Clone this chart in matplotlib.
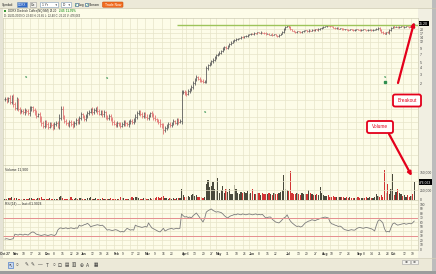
import numpy as np
import pandas as pd
import matplotlib
matplotlib.use("Agg")
import matplotlib.pyplot as plt
from matplotlib.patches import Rectangle, FancyBboxPatch
from matplotlib.ticker import NullLocator
from matplotlib.transforms import blended_transform_factory, ScaledTranslation

plt.rcParams["font.family"] = ["Liberation Sans", "DejaVu Sans"]

W, H = 436, 274

# ---------------- data ----------------
start_date, end_date = "2008-10-27", "2009-10-21"
holidays = ["2008-11-27", "2008-12-25", "2009-01-01", "2009-01-19", "2009-02-16",
            "2009-04-10", "2009-05-25", "2009-07-03", "2009-09-07"]

close = [
    1.05, 0.98, 1.10, 0.95, 1.15, 0.85, 0.72, 1.05, 0.68, 0.62,
    0.65, 0.60, 0.66, 0.63, 0.58, 0.70, 0.74, 0.66, 0.60, 0.52,
    0.55, 0.45, 0.38, 0.34, 0.40, 0.36, 0.33, 0.37, 0.35, 0.32,
    0.36, 0.39, 0.34, 0.48, 0.70, 0.50, 0.42, 0.38, 0.36, 0.40,
    0.37, 0.35, 0.39, 0.43, 0.40, 0.48, 0.55, 0.50, 0.45, 0.52,
    0.58, 0.62, 0.68, 0.60, 0.66, 0.70, 0.63, 0.57, 0.62, 0.55,
    0.60, 0.50, 0.47, 0.52, 0.45, 0.40, 0.37, 0.35, 0.38, 0.36,
    0.34, 0.37, 0.40, 0.38, 0.36, 0.39, 0.42, 0.40, 0.44, 0.50,
    0.58, 0.62, 0.55, 0.52, 0.56, 0.50, 0.47, 0.52, 0.58, 0.54,
    0.48, 0.45, 0.42, 0.40, 0.36, 0.33, 0.28, 0.31, 0.34, 0.37,
    0.35, 0.38, 0.41, 0.39, 0.43, 0.40, 0.42, 1.40, 1.45, 1.35,
    1.30, 1.50, 1.58, 1.75, 2.05, 2.40, 2.65, 2.50, 2.35, 2.30,
    2.20, 2.25, 3.90, 4.40, 4.80, 5.20, 5.60, 6.20, 6.80, 7.20,
    7.50, 8.20, 8.80, 9.50, 9.20, 10.0, 10.8, 11.5, 12.2, 12.8,
    13.2, 13.6, 13.9, 14.5, 14.2, 15.0, 15.3, 15.8, 16.2, 16.8,
    16.5, 17.2, 17.0, 17.6, 17.3, 17.8, 17.5, 17.0, 16.5, 16.8,
    16.0, 16.4, 15.8, 16.2, 15.5, 15.0, 15.8, 16.8, 18.0, 20.0,
    22.5, 23.3, 22.0, 20.0, 19.0, 18.3, 17.8, 18.5, 18.0, 17.6,
    18.4, 18.8, 19.2, 18.6, 19.5, 19.0, 19.8, 19.3, 20.0, 19.6,
    20.3, 20.8, 21.5, 22.5, 23.0, 23.6, 23.2, 22.8, 22.4, 21.5,
    21.0, 21.3, 20.6, 21.0, 20.4, 20.0, 20.3, 19.8, 19.5, 20.1,
    19.7, 19.4, 19.9, 20.2, 19.6, 19.3, 19.8, 20.0, 19.5, 19.2,
    19.6, 19.9, 19.4, 19.7, 20.1, 20.5, 21.2, 19.5, 18.0, 17.2,
    16.8, 17.9, 17.4, 19.5, 21.5, 23.0, 22.2, 22.6, 22.0, 22.4,
    22.8, 22.3, 22.6, 23.0, 22.5, 22.2, 22.7, 22.55, 25.20,
]

# bar wick beyond open/close, in percent
wick = [
    8, 10, 6, 12, 9, 14, 10, 8, 7, 9,
    6, 8, 10, 7, 9, 12, 8, 6, 10, 9,
    7, 11, 14, 10, 8, 9, 12, 7, 8, 10,
    9, 6, 8, 15, 10, 12, 8, 9, 7, 10,
    8, 11, 6, 9, 10, 8, 12, 7, 9, 6,
    10, 8, 7, 12, 9, 6, 10, 8, 7, 9,
    11, 8, 6, 10, 9, 12, 7, 8, 10, 6,
    9, 7, 8, 11, 6, 10, 8, 9, 7, 12,
    10, 8, 6, 9, 11, 7, 10, 8, 6, 9,
    8, 10, 7, 9, 12, 8, 14, 9, 7, 10,
    8, 6, 9, 7, 10, 8, 6, 12, 8, 7,
    9, 6, 8, 7, 9, 6, 8, 5, 7, 6,
    8, 6, 9, 7, 5, 6, 8, 5, 6, 4,
    5, 4, 6, 3, 5, 4, 3, 5, 4, 3,
    4, 3, 2, 4, 3, 2, 3, 4, 2, 3,
    2, 3, 2, 3, 2, 3, 2, 3, 4, 2,
    3, 2, 4, 2, 3, 4, 3, 2, 4, 5,
    4, 3, 5, 3, 2, 3, 2, 3, 2, 3,
    2, 3, 2, 2, 3, 2, 2, 3, 2, 2,
    3, 2, 2, 3, 2, 3, 2, 2, 3, 2,
    2, 3, 2, 2, 3, 2, 2, 2, 3, 2,
    2, 2, 3, 2, 2, 2, 3, 2, 2, 2,
    3, 2, 2, 2, 3, 2, 3, 4, 3, 4,
    3, 2, 3, 4, 3, 2, 3, 2, 2, 3,
    2, 2, 3, 2, 2, 3, 2, 2, 4,
]

# volume in thousands of shares
volume_k = [
    25, 18, 40, 30, 55, 22, 35, 28, 15, 20,
    12, 18, 25, 10, 15, 30, 45, 20, 15, 12,
    35, 40, 60, 25, 18, 20, 15, 30, 22, 12,
    18, 25, 15, 70, 90, 40, 20, 15, 25, 18,
    55, 20, 15, 30, 25, 45, 35, 20, 18, 25,
    30, 40, 60, 25, 20, 35, 18, 15, 22, 30,
    20, 25, 15, 18, 30, 12, 15, 20, 18, 25,
    65, 30, 50, 20, 18, 25, 40, 55, 30, 75,
    60, 35, 25, 20, 45, 30, 25, 18, 35, 22,
    30, 40, 55, 80, 45, 60, 85, 40, 35, 25,
    30, 20, 35, 25, 30, 40, 35, 290, 120, 80,
    60, 90, 70, 110, 150, 95, 130, 70, 60, 55,
    45, 60, 420, 530, 350, 380, 480, 300, 250, 580,
    190, 260, 360, 190, 300, 210, 280, 160, 150, 390,
    300, 180, 160, 200, 170, 210, 190, 220, 150, 180,
    300, 160, 140, 180, 170, 130, 190, 150, 160, 140,
    170, 150, 130, 180, 160, 140, 190, 210, 250, 670,
    300, 250, 220, 780, 180, 160, 150, 190, 140, 130,
    170, 150, 140, 160, 250, 190, 150, 130, 120, 140,
    110, 330, 180, 120, 100, 90, 110, 80, 70, 90,
    75, 60, 80, 55, 70, 60, 50, 65, 45, 55,
    40, 50, 45, 35, 55, 40, 50, 45, 35, 60,
    45, 55, 40, 50, 60, 140, 100, 80, 120, 70,
    800, 190, 420, 150, 300, 690, 120, 200, 300, 190,
    140, 90, 110, 80, 130, 70, 100, 140, 476.063,
]

rsi = [
    22, 23, 22, 21, 22, 23, 33, 32, 31, 33,
    32, 31, 33, 32, 31, 34, 37, 38, 36, 33,
    32, 31, 30, 31, 32, 31, 30, 31, 32, 31,
    30, 33, 42, 46, 47, 45, 46, 47, 45, 46,
    47, 46, 45, 47, 46, 53, 51, 52, 54, 55,
    57, 54, 49, 51, 52, 53, 54, 53, 52, 53,
    50, 46, 42, 43, 42, 41, 42, 43, 42, 40,
    38, 39, 38, 42, 46, 44, 42, 43, 42, 53,
    51, 50, 49, 48, 49, 50, 49, 58, 52, 47,
    45, 43, 41, 39, 38, 42, 46, 40, 42, 44,
    45, 46, 44, 45, 46, 45, 46, 78, 74, 71,
    72, 70, 71, 69, 74, 77, 80, 75, 70, 65,
    60, 68, 82, 85, 87, 89, 86, 84, 82, 83,
    82, 81, 78, 74, 71, 69, 72, 74, 75, 77,
    76, 78, 77, 76, 78, 77, 76, 77, 78, 77,
    76, 77, 78, 76, 77, 76, 77, 73, 69, 70,
    71, 71, 66, 63, 60, 59, 58, 61, 65, 69,
    71, 76, 68, 62, 58, 55, 52, 50, 51, 49,
    50, 54, 58, 60, 62, 63, 65, 64, 63, 65,
    66, 68, 69, 70, 71, 70, 69, 60, 56, 55,
    53, 52, 50, 51, 49, 45, 43, 42, 41, 42,
    43, 42, 42, 45, 47, 48, 47, 46, 47, 48,
    47, 46, 45, 43, 40, 52, 62, 65, 62, 58,
    45, 38, 39, 38, 48, 56, 58, 55, 53, 54,
    55, 56, 57, 55, 56, 57, 56, 58, 62,
]

tick_dates = ["2008-10-27", "2008-11-03", "2008-11-10", "2008-11-17", "2008-11-24",
              "2008-12-01", "2008-12-08", "2008-12-15", "2008-12-22", "2008-12-29",
              "2009-01-02", "2009-01-12", "2009-01-20", "2009-01-26", "2009-02-02",
              "2009-02-09", "2009-02-17", "2009-02-23", "2009-03-02", "2009-03-09",
              "2009-03-16", "2009-03-23", "2009-04-01", "2009-04-06", "2009-04-13",
              "2009-04-20", "2009-04-27", "2009-05-01", "2009-05-11", "2009-05-18",
              "2009-05-26", "2009-06-01", "2009-06-08", "2009-06-15", "2009-06-22",
              "2009-07-01", "2009-07-13", "2009-07-20", "2009-07-27", "2009-08-03",
              "2009-08-10", "2009-08-17", "2009-08-24", "2009-09-01", "2009-09-08",
              "2009-09-14", "2009-09-21", "2009-09-28", "2009-10-01", "2009-10-12",
              "2009-10-19"]
tick_labels = ["Oct 27", "Nov", "10", "17", "24", "Dec", "8", "15", "22", "29",
               "Jan", "12", "19", "26", "Feb", "9", "17", "23", "Mar", "9",
               "16", "23", "Apr", "6", "13", "20", "27", "May", "11", "18",
               "26", "Jun", "8", "15", "22", "Jul", "13", "20", "27", "Aug",
               "10", "17", "24", "Sep", "8", "14", "21", "28", "Oct", "12", "19"]
month_names = {"Oct 27", "Nov", "Dec", "Jan", "Feb", "Mar", "Apr", "May", "Jun",
               "Jul", "Aug", "Sep", "Oct"}

price_ticks = [2, 3, 4, 5, 7, 9, 12, 14, 17, 20]
price_grid = [0.1, 0.15, 0.2, 0.3, 0.4, 0.5, 0.7, 1.0, 1.4]
volume_ticks = [0, 250000, 500000, 750000]
volume_tick_labels = ["0", "250,000", "", "750,000"]
rsi_ticks = list(range(0, 101, 10))

last_close = 25.20
last_volume = 476063
resistance = 23.6
resistance_from = "2009-03-27"
event_dates = ["2008-11-13", "2009-01-27", "2009-04-22", "2009-09-25"]
event_prices = [2.7, 2.6, 0.61, 2.7]

# ---------------- helpers ----------------
dates = pd.bdate_range(start_date, end_date)
dates = dates[~dates.isin(pd.to_datetime(holidays))]


def idx_of(d):
    return int(dates.searchsorted(pd.Timestamp(d)))


def px_box(x0, y0, x1, y1):
    return [x0 / W, 1 - y1 / H, (x1 - x0) / W, (y1 - y0) / H]


CREAM = "#fdfce8"
GRID = "#e7e5c9"
UP = "#5e5e5e"
DOWN = "#e27474"
VUP = "#4a4a3c"
VDOWN = "#d23434"
RED = "#e4001b"

c = np.array(close)
o = np.r_[c[0], c[:-1]]
w = 1 + np.array(wick) / 100.0
hi = np.maximum(o, c) * w
lo = np.minimum(o, c) / w
x = np.arange(len(c))
up = c >= o
bar_col = np.where(up, UP, DOWN)
vol_col = np.where(up, VUP, VDOWN)
vol = np.array(volume_k) * 1000

tick_pos = [idx_of(d) for d in tick_dates]
xlim = (-1.2, 250.3)

fig = plt.figure(figsize=(W / 100, H / 100), dpi=100, facecolor=CREAM)

# background chrome
bg = fig.add_axes([0, 0, 1, 1], zorder=-10)
bg.set_xlim(0, W)
bg.set_ylim(H, 0)
bg.axis("off")
bg.add_patch(Rectangle((418, 8), 14, 250, fc="#f1efe2", ec="none"))
bg.add_patch(Rectangle((0, 8), 3, 250, fc="#e6e4d6", ec="none"))

# ---------------- price panel ----------------
axp = fig.add_axes(px_box(3, 18, 418, 165))
axp.set_facecolor(CREAM)
axp.set_yscale("log")
axp.set_ylim(0.065, 32.4)
axp.set_xlim(*xlim)
axp.vlines(x, lo, hi, colors=bar_col, lw=0.6)
axp.hlines(c, x, x + 0.45, colors=bar_col, lw=0.5)
axp.hlines(o, x - 0.45, x, colors=bar_col, lw=0.5)
axp.hlines(resistance, idx_of(resistance_from), xlim[1], colors="#9dc45a", lw=1.0)
for d, p in zip(event_dates, event_prices):
    axp.text(idx_of(d), p, "s", color="#2f8f4f", fontsize=3, ha="center", va="center",
             fontweight="bold")
axp.plot(idx_of(event_dates[-1]), event_prices[-1] * 0.82, marker="s", ms=1.6,
         color="#2f8f4f", lw=0)
yt = price_grid + price_ticks
axp.set_yticks(yt)
axp.set_yticklabels([""] * len(price_grid) + [str(t) for t in price_ticks])
axp.yaxis.set_minor_locator(NullLocator())
axp.set_xticks(tick_pos)
axp.grid(True, color=GRID, lw=0.5)
axp.tick_params(length=0, labelsize=2.6, pad=1.5, labelleft=False, labelright=True,
                labelbottom=False, colors="#444444")
tr = blended_transform_factory(axp.transAxes, axp.transData)
axp.text(1.003, last_close, "25.20", transform=tr, fontsize=2.6, color="white",
         va="center", ha="left",
         bbox=dict(fc="black", ec="none", pad=0.4))

# ---------------- volume panel ----------------
axv = fig.add_axes(px_box(3, 165, 418, 200))
axv.set_facecolor(CREAM)
axv.bar(x, vol, width=0.75, color=vol_col, lw=0)
axv.set_xlim(*xlim)
axv.set_ylim(-13600, 941000)
axv.set_yticks(volume_ticks)
axv.set_yticklabels(volume_tick_labels)
axv.set_xticks(tick_pos)
axv.grid(True, color=GRID, lw=0.5)
axv.tick_params(length=0, labelsize=2.4, pad=1.5, labelleft=False, labelright=True,
                labelbottom=False, colors="#444444")
axv.text(0.005, 0.93, "Volume 11,900", transform=axv.transAxes, fontsize=2.5,
         color="#333333", va="top")
trv = blended_transform_factory(axv.transAxes, axv.transData)
axv.text(1.003, last_volume, "476,063", transform=trv, fontsize=2.4, color="white",
         va="center", ha="left", bbox=dict(fc="black", ec="none", pad=0.4))

# ---------------- RSI panel ----------------
axr = fig.add_axes(px_box(3, 200, 418, 250))
axr.set_facecolor(CREAM)
axr.plot(x, rsi, color="#7c7c7c", lw=0.6)
axr.axhline(70, color="#e58f8f", lw=0.7)
axr.axhline(30, color="#e58f8f", lw=0.7)
axr.set_xlim(*xlim)
axr.set_ylim(-2.2, 108.9)
axr.set_yticks(rsi_ticks)
axr.set_xticks(tick_pos)
axr.set_xticklabels(tick_labels, ha="left")
labels = axr.get_xticklabels()
for i, t in enumerate(labels):
    if t.get_text() in month_names:
        t.set_fontweight("bold")
        t.set_color("#111111")
labels[0].set_horizontalalignment("center")
# nudge the label crowded right after "Apr"
labels[tick_labels.index("Apr") + 1].set_transform(
    labels[0].get_transform() + ScaledTranslation(1.5 / 100, 0, fig.dpi_scale_trans))
axr.grid(True, color=GRID, lw=0.5)
axr.tick_params(axis="y", length=0, labelsize=2.3, pad=1.5, labelleft=False,
                labelright=True, colors="#444444")
axr.tick_params(axis="x", length=0, labelsize=2.3, pad=1.2, colors="#333333")
axr.text(0.005, 0.97, "RSI(14) \u2014 last=61.9024", transform=axr.transAxes,
         fontsize=2.4, color="#333333", va="top")

for ax in (axp, axv, axr):
    for s in ax.spines.values():
        s.set_color("#cfcdb5")
        s.set_linewidth(0.5)

# ---------------- foreground chrome ----------------
ov = fig.add_axes([0, 0, 1, 1], zorder=20)
ov.set_xlim(0, W)
ov.set_ylim(H, 0)
ov.axis("off")
ov.patch.set_alpha(0)

# top toolbar
ov.add_patch(Rectangle((0, 0), W, 8.3, fc="#ece9d8", ec="none"))
ov.plot([0, W], [8.3, 8.3], color="#cbc7b0", lw=0.5)
ov.text(2, 4.6, "Symbol:", fontsize=2.4, va="center", color="#222222")
ov.add_patch(Rectangle((17, 2), 10, 5, fc="#3169c6", ec="#7f9db9", lw=0.4))
ov.text(22, 4.6, "DDRX", fontsize=2.2, va="center", ha="center", color="white")
ov.add_patch(Rectangle((29.5, 2), 6, 5, fc="#f4f3ee", ec="#9a9a9a", lw=0.4))
ov.text(32.5, 4.6, "Go", fontsize=2.3, va="center", ha="center", color="#222222")
ov.add_patch(Rectangle((40, 2), 18, 5, fc="white", ec="#7f9db9", lw=0.4))
ov.text(42, 4.6, "1 Yr", fontsize=2.3, va="center", color="#222222")
ov.text(56, 4.6, "\u25bc", fontsize=1.8, va="center", ha="center", color="#333333")
ov.add_patch(Rectangle((60.5, 2), 10.5, 5, fc="white", ec="#7f9db9", lw=0.4))
ov.text(62.5, 4.6, "D", fontsize=2.3, va="center", color="#222222")
ov.text(69, 4.6, "\u25bc", fontsize=1.8, va="center", ha="center", color="#333333")
for cx, lab in ((74.5, "Log"), (85, "Stream")):
    ov.add_patch(Rectangle((cx, 3), 3, 3, fc="white", ec="#1c5180", lw=0.4))
    ov.text(cx + 1.5, 4.6, "\u2713", fontsize=2.4, va="center", ha="center",
            color="#21a121")
    ov.text(cx + 4, 4.6, lab, fontsize=2.4, va="center", color="#222222")
ov.add_patch(FancyBboxPatch((102.5, 2), 20.5, 5.2, boxstyle="round,pad=0,rounding_size=0.8",
                            fc="#f26c1f", ec="#c84f10", lw=0.4))
ov.text(112.7, 4.6, "Trade Now", fontsize=2.4, va="center", ha="center", color="white")

# header lines
ov.add_patch(Rectangle((4, 10), 2.2, 2.2, fc="#3a9a3a", ec="none"))
ov.text(7.5, 11.2, "DDRX Diedrich Coffee(NQ:NM)", fontsize=2.1, va="center",
        color="#222222")
ov.text(49.5, 11.2, "25.20", fontsize=2.1, va="center", color="#222222")
ov.text(58.5, 11.2, "2.65  11.76%", fontsize=2.1, va="center", color="#2e9a2e",
        fontweight="bold")
ov.text(4, 15.2, "D: 10/21/2009 O: 22.60 H: 25.65 L: 22.40 C: 25.20 V: 476,063",
        fontsize=2.0, va="center", color="#333333")

# bottom toolbar
ov.add_patch(Rectangle((0, 258), W, 13, fc="#ece9d8", ec="none"))
ov.plot([0, W], [258, 258], color="#d2cfba", lw=0.5)
ov.add_patch(Rectangle((7.5, 262.3), 5.5, 5.5, fc="#c9d8ef", ec="#316ac5", lw=0.4))
icons = [(10.2, "\u2196"), (17, "\u25cb"), (27, "\u270e"), (33, "\u270e"),
         (40, "\u2014"), (47, "T"), (53.5, "\u25cb"), (60, "\u22a1"),
         (67, "\u25a4"), (74, "\u25a5"), (81.5, "\u2295"), (88, "A"), (95.5, "\u25a6")]
for ix, g in icons:
    ov.text(ix, 265.2, g, fontsize=3.3, va="center", ha="center", color="#3a3a3a")
for bx, g in ((402, "\u2295"), (410.5, "\u2296")):
    ov.add_patch(Rectangle((bx, 259.5), 7.5, 4.5, fc="#f4f3ee", ec="#a0a0a0", lw=0.4))
    ov.text(bx + 3.75, 261.8, g, fontsize=2.5, va="center", ha="center",
            color="#444444")

# window edge / shadow
ov.add_patch(Rectangle((432, 0), 4, H, fc="#bcbcbc", ec="none"))
ov.add_patch(Rectangle((0, 271), W, 3, fc="#9c9c9c", ec="none"))

# callouts
for (bx, by, bw, bh, lab) in ((393, 94.5, 28, 12, "Breakout"), (367, 121, 26, 12, "Volume")):
    ov.add_patch(FancyBboxPatch((bx + 0.8, by + 0.8), bw, bh,
                                boxstyle="round,pad=0,rounding_size=2",
                                fc="#b0b0b0", ec="none", alpha=0.5))
    ov.add_patch(FancyBboxPatch((bx, by), bw, bh, boxstyle="round,pad=0,rounding_size=2",
                                fc="white", ec=RED, lw=1.3))
    ov.text(bx + bw / 2, by + bh / 2, lab, fontsize=3.4, va="center", ha="center",
            color=RED)

ov.annotate("", xy=(len(c) - 1, last_close * 1.08), xycoords=axp.transData,
            xytext=(398, 83), textcoords=ov.transData,
            arrowprops=dict(arrowstyle="-|>", color=RED, lw=1.6, mutation_scale=5,
                            shrinkA=0, shrinkB=0))
ov.annotate("", xy=(len(c) - 2.5, last_volume * 1.35), xycoords=axv.transData,
            xytext=(389, 134), textcoords=ov.transData,
            arrowprops=dict(arrowstyle="-|>", color=RED, lw=1.6, mutation_scale=5,
                            shrinkA=0, shrinkB=0))

fig.savefig("out.png", dpi=100, facecolor=CREAM)
